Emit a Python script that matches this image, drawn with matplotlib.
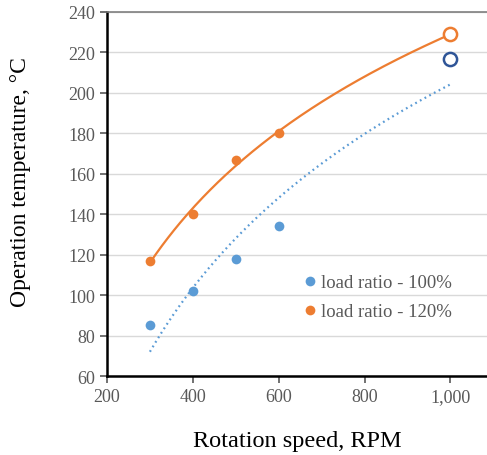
import numpy as np
import matplotlib.pyplot as plt
from matplotlib.ticker import FuncFormatter

# measured points
rpm = [300, 400, 500, 600]
temp_100 = [85, 102, 118, 134]
temp_120 = [117, 140, 167, 180]

# predicted points at 1000 RPM (hollow markers)
rpm_pred = [1000]
pred_100 = [217]
pred_120 = [229]

BLUE = "#5B9BD5"
ORANGE = "#ED7D31"
NAVY = "#2F5597"
GRAY = "#595959"


def log_fit(xs, ys):
    # logarithmic trend line, like a spreadsheet "log" trendline
    a, b = np.polyfit(np.log(xs), ys, 1)
    xx = np.linspace(min(xs), max(xs), 200)
    return xx, a * np.log(xx) + b


def main():
    plt.rcParams["font.family"] = ["Liberation Serif", "DejaVu Serif"]

    fig = plt.figure(figsize=(4.87, 4.56), dpi=100)
    ax = fig.add_axes([0.2197, 0.1732, 0.78, 0.7983])

    x100, y100 = log_fit(rpm + rpm_pred, temp_100 + pred_100)
    x120, y120 = log_fit(rpm + rpm_pred, temp_120 + pred_120)

    ax.plot(x120, y120, color=ORANGE, lw=1.6, zorder=3)
    ax.plot(x100, y100, color=BLUE, lw=1.6, ls=(0, (0.8, 1.6)), zorder=3)

    ax.plot(rpm, temp_100, "o", color=BLUE, ms=7, mec="none", zorder=4,
            label="load ratio - 100%")
    ax.plot(rpm, temp_120, "o", color=ORANGE, ms=7, mec="none", zorder=4,
            label="load ratio - 120%")
    ax.plot(rpm_pred, pred_120, "o", mfc="white", mec=ORANGE, mew=1.8,
            ms=9.5, zorder=5)
    ax.plot(rpm_pred, pred_100, "o", mfc="white", mec=NAVY, mew=1.8,
            ms=9.5, zorder=5)

    ax.set_xlim(200, 1085)
    ax.set_ylim(60, 240)
    ax.set_xticks([200, 400, 600, 800, 1000])
    ax.set_yticks(range(60, 241, 20))
    ax.xaxis.set_major_formatter(FuncFormatter(lambda v, p: f"{int(v):,}"))

    ax.grid(axis="y", color="#D9D9D9", lw=1.0)
    ax.set_axisbelow(True)

    for s in ("left", "bottom"):
        ax.spines[s].set_color("black")
        ax.spines[s].set_linewidth(1.8)
    ax.spines["top"].set_color("#7F7F7F")
    ax.spines["top"].set_linewidth(1.2)
    ax.spines["right"].set_visible(False)

    ax.tick_params(axis="both", labelsize=13, labelcolor=GRAY, color=GRAY,
                   direction="out", length=5, width=1.2)

    ax.set_xlabel("Rotation speed, RPM", fontsize=17.5, labelpad=18)
    ax.set_ylabel("Operation temperature, °C", fontsize=17)
    ax.yaxis.set_label_coords(-0.2, 0.535)

    leg = ax.legend(loc="upper left", bbox_to_anchor=(0.50, 0.3),
                    frameon=False, fontsize=13.5, handlelength=0.6,
                    handletextpad=0.3, labelspacing=0.62, borderaxespad=0)
    for t in leg.get_texts():
        t.set_color(GRAY)

    fig.savefig("out.png", dpi=100)
    plt.close(fig)


if __name__ == "__main__":
    main()
